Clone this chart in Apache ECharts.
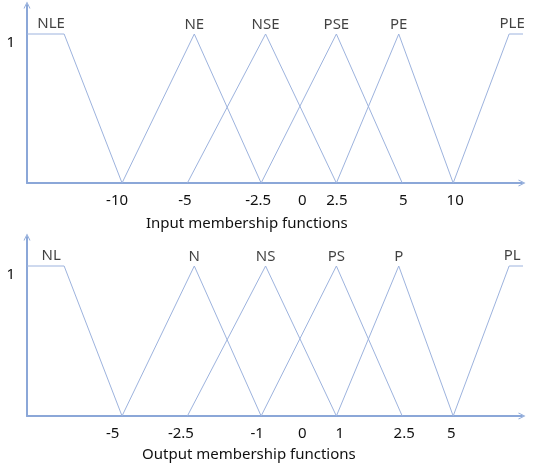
<!DOCTYPE html>
<html>
<head>
<meta charset="utf-8">
<script src="https://cdn.jsdelivr.net/npm/echarts@6/dist/echarts.min.js"></script>
<style>
html,body{margin:0;padding:0;background:#fff;}
#c{width:534px;height:468px;}
</style>
</head>
<body>
<div id="c"></div>
<script>
// ---- data (x in axis position units 0..100, schematic non-linear axis) ----
const inputNames  = ['NLE', 'NE', 'NSE', 'PSE', 'PE', 'PLE'];
const outputNames = ['NL', 'N', 'NS', 'PS', 'P', 'PL'];
// breakpoints [x, membership]
const mf1 = [[0, 1], [7.5, 1], [19.2, 0]];
const mf2 = [[19.2, 0], [33.8, 1], [47.3, 0]];
const mf3 = [[32.4, 0], [48.2, 1], [62.5, 0]];
const mf4 = [[47.3, 0], [62.5, 1], [75.8, 0]];
const mf5 = [[62.5, 0], [75.1, 1], [86.1, 0]];
const mf6 = [[86.1, 0], [97.4, 1], [102.4, 1]];
const mfShapes = [mf1, mf2, mf3, mf4, mf5, mf6];

const inputTickLabels  = ['-10', '-5', '-2.5', '0', '2.5', '5', '10'];
const inputTickPos     = [18.2, 31.9, 46.7, 55.6, 62.6, 76.0, 86.5];
const outputTickLabels = ['-5', '-2.5', '-1', '0', '1', '2.5', '5'];
const outputTickPos    = [17.3, 31.1, 46.5, 55.6, 63.2, 76.2, 85.7];
const yTickLabels = ['1'];
const yTickPos = [1];

const axisTitles = ['Input membership functions', 'Output membership functions'];

// ---- styling ----
const FONT = 'Noto Sans';
const LINE = '#9db3de';
const AXIS = '#8ba7d8';
const arrowPath = 'path://M0,10 L5,0 L10,10 L8.6,10 L5,2.6 L1.4,10 Z';

function labelOffset(i) {
  if (i === 0) return [-13, 0];
  if (i === 5) return [3, 0];
  return [0, 0];
}

function buildSeries(names, gridIdx) {
  const lines = mfShapes.map(pts => ({
    type: 'line',
    xAxisIndex: gridIdx, yAxisIndex: gridIdx,
    clip: false,
    symbol: 'none',
    silent: true,
    lineStyle: {color: LINE, width: 1},
    data: pts
  }));
  const labels = {
    type: 'scatter',
    xAxisIndex: gridIdx, yAxisIndex: gridIdx,
    clip: false,
    silent: true,
    symbolSize: 1,
    itemStyle: {color: 'rgba(0,0,0,0)'},
    data: mfShapes.map((pts, i) => ({
      value: pts[1],
      label: {
        show: true, position: 'top', distance: (i === 0 || i === 5) ? 2 : 1,
        offset: labelOffset(i), formatter: names[i],
        color: '#111', fontSize: 15, fontFamily: FONT
      }
    }))
  };
  return lines.concat([labels]);
}

function xAxisOpt(gridIdx, pos, labels) {
  const map = {};
  pos.forEach((p, i) => map[p] = labels[i]);
  return {
    type: 'value', gridIndex: gridIdx, min: 0, max: 100,
    splitLine: {show: false},
    axisTick: {show: false},
    axisLine: {show: true, lineStyle: {color: AXIS, width: 2}, symbol: ['none', arrowPath], symbolSize: [10, 7]},
    axisLabel: {customValues: pos, formatter: v => map[v] !== undefined ? map[v] : '', color: '#111', fontSize: 15, fontFamily: FONT, margin: 10}
  };
}

function yAxisOpt(gridIdx, ymax) {
  return {
    type: 'value', gridIndex: gridIdx, min: 0, max: ymax,
    splitLine: {show: false},
    axisTick: {show: false},
    axisLine: {show: true, lineStyle: {color: AXIS, width: 2}, symbol: ['none', arrowPath], symbolSize: [10, 7]},
    axisLabel: {customValues: yTickPos, formatter: v => yTickLabels[yTickPos.indexOf(v)] || '', color: '#111', fontSize: 15, fontFamily: FONT, margin: 12, verticalAlign: 'top', padding: [1, 0, 0, 0]}
  };
}

const chart = echarts.init(document.getElementById('c'), null, {renderer: 'canvas'});
chart.setOption({
  animation: false,
  backgroundColor: '#fff',
  title: [
    {text: axisTitles[0], left: 141, top: 211, textStyle: {fontFamily: FONT, fontSize: 15, fontWeight: 'normal', color: '#111'}},
    {text: axisTitles[1], left: 137, top: 442, textStyle: {fontFamily: FONT, fontSize: 15, fontWeight: 'normal', color: '#111'}}
  ],
  grid: [
    {left: 27, top: 5, width: 495, height: 178},
    {left: 27, top: 237, width: 495, height: 179}
  ],
  xAxis: [xAxisOpt(0, inputTickPos, inputTickLabels), xAxisOpt(1, outputTickPos, outputTickLabels)],
  yAxis: [yAxisOpt(0, 178 / 149), yAxisOpt(1, 179 / 150)],
  series: buildSeries(inputNames, 0).concat(buildSeries(outputNames, 1))
});
</script>
</body>
</html>
